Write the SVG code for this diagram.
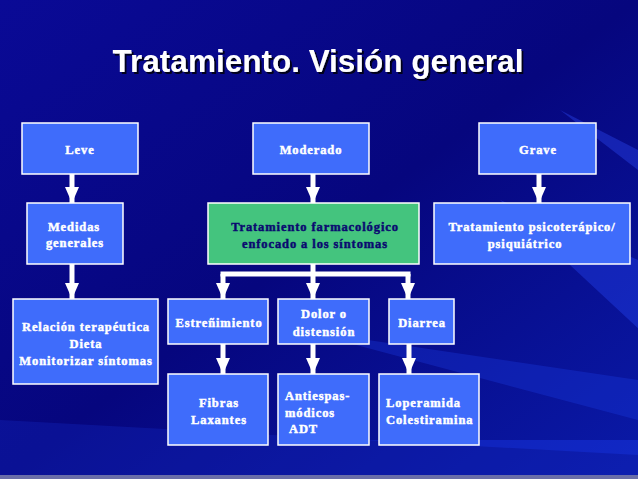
<svg xmlns="http://www.w3.org/2000/svg" width="638" height="479" viewBox="0 0 638 479">
<defs>
<linearGradient id="bg" x1="0" y1="0" x2="1" y2="1">
<stop offset="0" stop-color="#0a0a96"/>
<stop offset="0.5" stop-color="#06067e"/>
<stop offset="1" stop-color="#0a1aa8"/>
</linearGradient>
<marker id="ah" markerUnits="userSpaceOnUse" markerWidth="16" markerHeight="14" refX="16" refY="7" orient="auto">
<path d="M0,0 L16,7 L0,14 Z" fill="#ffffff"/>
</marker>
<filter id="sh" x="-5%" y="-20%" width="110%" height="140%">
<feDropShadow dx="2" dy="2" stdDeviation="0.6" flood-color="#000000" flood-opacity="0.8"/>
</filter>
</defs>
<style>
.b{fill:#3f6cfb;stroke:#ffffff;stroke-width:1.5}
.g{fill:#44c47e;stroke:#ffffff;stroke-width:1.5}
.t{font-family:"Liberation Serif","Times New Roman",serif;font-weight:bold;font-size:12.5px;letter-spacing:0.9px;fill:#ffffff;stroke:#ffffff;stroke-width:0.45;text-anchor:middle}
.l{text-anchor:start}
.n{fill:#0a0a70;stroke:#0a0a70}
.c{fill:none;stroke:#ffffff;stroke-width:5;marker-end:url(#ah)}
.s{fill:none;stroke:#ffffff;stroke-width:5}
</style>
<rect width="638" height="479" fill="url(#bg)"/>
<g opacity="0.35">
<polygon points="638,260 500,200 640,330" fill="#2a4cff"/>
<polygon points="638,380 300,330 638,420" fill="#1a3ae0"/>
<polygon points="638,440 200,440 638,470" fill="#1f44ff"/>
<polygon points="560,110 638,170 638,150" fill="#3050ff"/>
<polygon points="0,420 638,455 638,479 0,479" fill="#1428c0"/>
</g>
<rect x="0" y="475" width="638" height="4" fill="#6a6ea8"/>
<text x="318" y="72" font-family="Liberation Sans, Arial, sans-serif" font-weight="bold" font-size="31.5" fill="#ffffff" text-anchor="middle" filter="url(#sh)">Tratamiento. Visión general</text>

<g id="connectors">
<path class="c" d="M72,174 V203"/>
<path class="c" d="M313,174 V203"/>
<path class="c" d="M539,174 V203"/>
<path class="c" d="M72,264 V299"/>
<path class="s" d="M313,264 V274"/>
<path class="c" d="M223,274 V299"/>
<path class="s" d="M220.5,274 H410.5"/>
<path class="c" d="M313,274 V299"/>
<path class="c" d="M408,274 V299"/>
<path class="c" d="M223,344 V374"/>
<path class="c" d="M313,344 V374"/>
<path class="c" d="M409,344 V374"/>
</g>

<g id="leve"><rect class="b" x="22" y="123" width="116" height="51"/><text class="t" x="80" y="154">Leve</text></g>
<g id="moderado"><rect class="b" x="253" y="123" width="116" height="51"/><text class="t" x="311" y="154">Moderado</text></g>
<g id="grave"><rect class="b" x="479" y="123" width="117" height="51"/><text class="t" x="538" y="154">Grave</text></g>
<g id="medidas"><rect class="b" x="27" y="203" width="96" height="61"/><text class="t" x="74" y="231">Medidas</text><text class="t" x="75" y="247">generales</text></g>
<g id="farmaco"><rect class="g" x="208" y="203" width="211" height="61"/><text class="t n" x="315" y="231">Tratamiento farmacológico</text><text class="t n" x="315" y="248">enfocado a los síntomas</text></g>
<g id="psico"><rect class="b" x="434" y="203" width="196" height="61"/><text class="t" x="532" y="231">Tratamiento psicoterápico/</text><text class="t" x="525" y="248">psiquiátrico</text></g>
<g id="relacion"><rect class="b" x="13" y="299" width="145" height="85"/><text class="t" x="86" y="331">Relación terapéutica</text><text class="t" x="86" y="348">Dieta</text><text class="t" x="86" y="365">Monitorizar síntomas</text></g>
<g id="estrenimiento"><rect class="b" x="168" y="299" width="100" height="45"/><text class="t" x="219" y="327">Estreñimiento</text></g>
<g id="dolor"><rect class="b" x="278" y="299" width="91" height="45"/><text class="t" x="324" y="318">Dolor o</text><text class="t" x="324" y="336">distensión</text></g>
<g id="diarrea"><rect class="b" x="389" y="299" width="65" height="45"/><text class="t" x="422" y="327">Diarrea</text></g>
<g id="fibras"><rect class="b" x="168" y="374" width="100" height="71"/><text class="t" x="219" y="407">Fibras</text><text class="t" x="219" y="424">Laxantes</text></g>
<g id="antiespas"><rect class="b" x="278" y="374" width="91" height="71"/><text class="t l" x="285" y="400">Antiespas-</text><text class="t l" x="285" y="417">módicos</text><text class="t l" x="289" y="433">ADT</text></g>
<g id="loperamida"><rect class="b" x="379" y="374" width="100" height="71"/><text class="t l" x="386" y="407">Loperamida</text><text class="t l" x="386" y="424">Colestiramina</text></g>
</svg>
